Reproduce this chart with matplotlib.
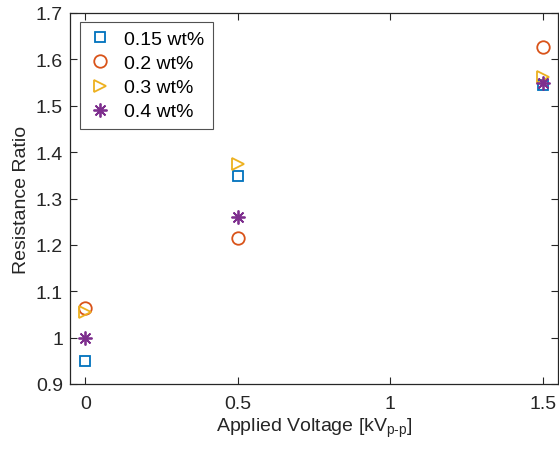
import numpy as np
import matplotlib
matplotlib.use('agg')
import matplotlib.pyplot as plt

plt.rcParams['font.family'] = ['Liberation Sans', 'DejaVu Sans']
plt.rcParams['mathtext.fontset'] = 'custom'
plt.rcParams['mathtext.rm'] = 'Liberation Sans'
plt.rcParams['mathtext.it'] = 'Liberation Sans'

# Data
voltage = [0, 0.5, 1.5]
labels = ['0.15 wt%', '0.2 wt%', '0.3 wt%', '0.4 wt%']
ratio_015 = [0.950, 1.348, 1.545]
ratio_02 = [1.063, 1.215, 1.627]
ratio_03 = [1.055, 1.375, 1.563]
ratio_04 = [0.999, 1.261, 1.548]

colors = ['#0072BD', '#D95319', '#EDB120', '#7E2F8E']
markers = ['s', 'o', '>', (8, 2, 0)]
sizes = [7, 9, 9, 10]

fig = plt.figure(figsize=(5.59, 4.52), dpi=100)
ax = fig.add_axes((70 / 559, 1 - 385 / 452, 488 / 559, 371 / 452))

for y, lab, c, m, s in zip([ratio_015, ratio_02, ratio_03, ratio_04],
                           labels, colors, markers, sizes):
    ax.plot(voltage, y, linestyle='none', marker=m, markersize=s,
            markerfacecolor='none', markeredgecolor=c, markeredgewidth=1.3,
            label=lab)

ax.set_xlim(-0.05, 1.55)
ax.set_ylim(0.9, 1.7)
ax.set_xticks([0, 0.5, 1, 1.5])
ax.set_xticklabels(['0', '0.5', '1', '1.5'])
yt = np.round(np.arange(0.9, 1.71, 0.1), 1)
ax.set_yticks(yt)
ax.set_yticklabels(['%g' % v for v in yt])

ax.tick_params(direction='in', top=True, right=True, length=5, width=0.8,
               labelsize=14, colors='#262626')
ax.tick_params(axis='x', pad=8)
ax.tick_params(axis='y', pad=5)
for sp in ax.spines.values():
    sp.set_linewidth(0.9)
    sp.set_color('#262626')

ax.set_xlabel(r'Applied Voltage [kV$_{\mathrm{p\text{-}p}}$]', fontsize=14,
              color='#262626', labelpad=3)
ax.set_ylabel('Resistance Ratio', fontsize=14, color='#262626', labelpad=4)

leg = ax.legend(loc='upper left', bbox_to_anchor=(0.02, 0.976), fontsize=14,
                frameon=True, fancybox=False, edgecolor='#262626',
                handlelength=1.2, handletextpad=0.6, borderpad=0.45,
                labelspacing=0.33, borderaxespad=0)
leg.get_frame().set_linewidth(0.8)

fig.savefig('out.png', dpi=100)
